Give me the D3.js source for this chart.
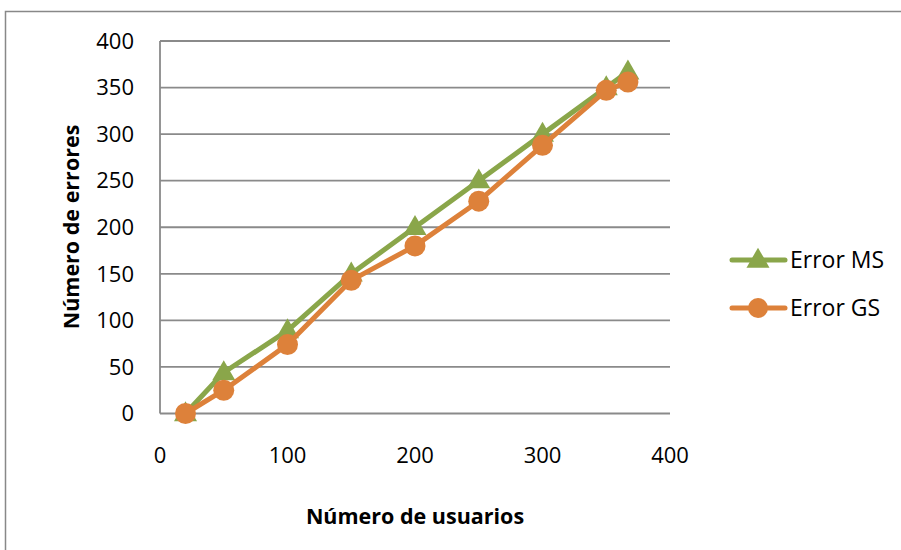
<!DOCTYPE html>
<html><head><meta charset="utf-8">
<script src="https://cdn.jsdelivr.net/npm/d3@7/dist/d3.min.js"></script>
<style>body{margin:0;background:#fff}svg{display:block}text{font-family:"Open Sans",sans-serif}</style>
</head><body><svg id="c" width="901" height="550"></svg>
<script>
const usuarios = [20, 50, 100, 150, 200, 250, 300, 350, 367];
const errorMS = [0, 44, 89, 150, 200, 250, 300, 350, 367];
const errorGS = [0, 25, 74, 143, 180, 228, 288, 347, 356];
const xTicks = [0, 100, 200, 300, 400];
const yTicks = [0, 50, 100, 150, 200, 250, 300, 350, 400];
const seriesNames = ["Error MS", "Error GS"];
const colors = ["#8aa64a", "#dd813a"];

const svg = d3.select("#c");
// outer chart border (right/bottom cut off)
svg.append("rect").attr("x",5.5).attr("y",11.5).attr("width",1000).attr("height",1000)
  .attr("fill","none").attr("stroke","#888").attr("stroke-width",1.5);

const x = d3.scaleLinear().domain([0,400]).range([160,670]);
const y = d3.scaleLinear().domain([0,400]).range([413.5,41]);

const g = svg.append("g");
g.selectAll(".grid").data(yTicks).join("line")
  .attr("x1",x(0)).attr("x2",x(400)).attr("y1",d=>y(d)).attr("y2",d=>y(d))
  .attr("stroke","#8a8a8a").attr("stroke-width",1.8);
g.append("line").attr("x1",x(0)).attr("x2",x(0)).attr("y1",y(0)).attr("y2",y(400))
  .attr("stroke","#8a8a8a").attr("stroke-width",1.8);

g.selectAll(".yl").data(yTicks).join("text")
  .attr("x",134).attr("y",d=>y(d)).attr("dy","0.35em").attr("text-anchor","end")
  .attr("font-size",22).attr("fill","#000").text(d=>d);
g.selectAll(".xl").data(xTicks).join("text")
  .attr("x",d=>x(d)).attr("y",455).attr("dy","0.35em").attr("text-anchor","middle")
  .attr("font-size",22).attr("fill","#000").text(d=>d);

svg.append("text").attr("x",415).attr("y",516).attr("dy","0.35em").attr("text-anchor","middle")
  .attr("font-size",21.5).attr("font-weight","bold").text("Número de usuarios");
svg.append("text").attr("transform","translate(71,227) rotate(-90)").attr("dy","0.35em")
  .attr("text-anchor","middle").attr("font-size",21.5).attr("font-weight","bold").text("Número de errores");

const line = d3.line().x(d=>x(d[0])).y(d=>y(d[1]));
const dataMS = usuarios.map((u,i)=>[u,errorMS[i]]);
const dataGS = usuarios.map((u,i)=>[u,errorGS[i]]);
const tri = d3.symbol().type(d3.symbolTriangle).size(230);

g.append("path").datum(dataMS).attr("d",line).attr("fill","none")
  .attr("stroke",colors[0]).attr("stroke-width",5).attr("stroke-linejoin","round");
g.selectAll(".ms").data(dataMS).join("path")
  .attr("transform",d=>`translate(${x(d[0])},${y(d[1])+1})`).attr("d",tri).attr("fill",colors[0]);
g.append("path").datum(dataGS).attr("d",line).attr("fill","none")
  .attr("stroke",colors[1]).attr("stroke-width",5).attr("stroke-linejoin","round");
g.selectAll(".gs").data(dataGS).join("circle")
  .attr("cx",d=>x(d[0])).attr("cy",d=>y(d[1])).attr("r",10.5).attr("fill",colors[1]);

const leg = svg.append("g");
const ly = [260, 308];
seriesNames.forEach((n,i)=>{
  leg.append("line").attr("x1",732).attr("x2",785).attr("y1",ly[i]).attr("y2",ly[i])
    .attr("stroke",colors[i]).attr("stroke-width",5).attr("stroke-linecap","round");
  if(i===0) leg.append("path").attr("transform",`translate(758,${ly[i]+1})`).attr("d",tri).attr("fill",colors[i]);
  else leg.append("circle").attr("cx",758).attr("cy",ly[i]).attr("r",10).attr("fill",colors[i]);
  leg.append("text").attr("x",790).attr("y",ly[i]).attr("dy","0.35em").attr("font-size",23).text(n);
});
</script></body></html>
